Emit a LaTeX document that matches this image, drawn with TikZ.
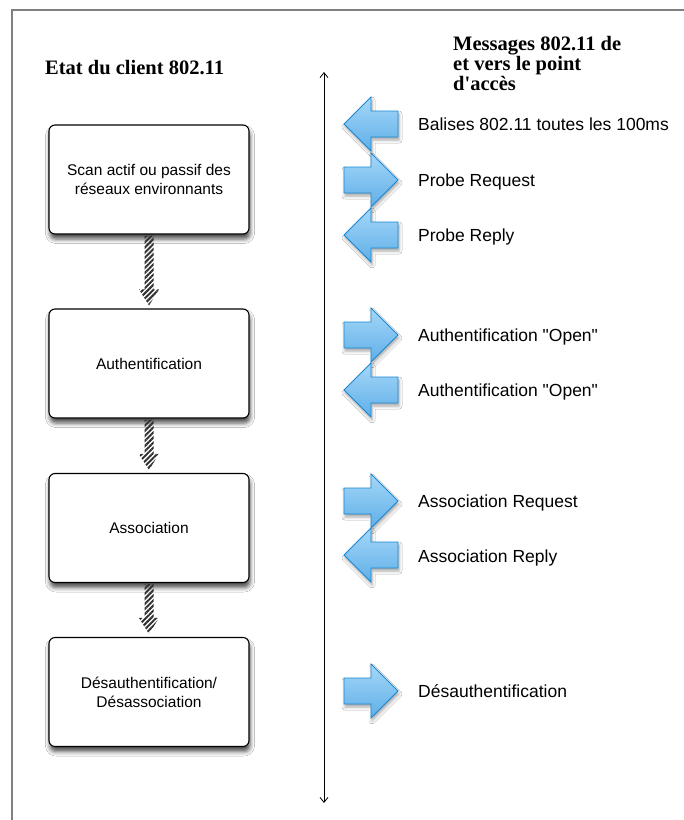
\documentclass[tikz,border=0pt]{standalone}
\usepackage{fontspec}
\setmainfont{Liberation Sans}[Ligatures=TeXOff]
\newfontfamily\titlefont{Liberation Serif}[Ligatures=TeXOff]
\usetikzlibrary{arrows.meta,shadows.blur,patterns.meta,calc}
\definecolor{framegray}{RGB}{128,128,128}
\definecolor{arrowtop}{RGB}{165,215,248}
\definecolor{arrowbot}{RGB}{95,175,232}
\definecolor{arrowline}{RGB}{25,135,212}
\definecolor{stripecol}{RGB}{50,50,50}
\newcommand\hatcharrow[2]{%
  \path[striped] ($(#1.south)+(-4.5,1)$) -- ($(#2.north)+(-4.5,-19)$) -- ($(#2.north)+(-10,-19)$) -- ($(#2.north)+(0,-3)$) -- ($(#2.north)+(10,-19)$) -- ($(#2.north)+(4.5,-19)$) -- ($(#1.south)+(4.5,1)$) -- cycle;}
\begin{document}
\begin{tikzpicture}[x=1pt,y=-1pt,
  statebox/.style={draw=black, line width=1.1pt, rounded corners=6pt, fill=white,
    minimum width=200pt, minimum height=109pt, align=center,
    font=\fontsize{15.5}{19}\selectfont,
    blur shadow={shadow xshift=1pt, shadow yshift=-5pt, shadow blur radius=4.5pt, shadow opacity=70}},
  msg/.style={anchor=base west, inner sep=0pt, font=\fontsize{17.5}{21}\selectfont},
  headtext/.style={anchor=base west, inner sep=0pt, text height=13pt, text depth=3pt,
    font=\titlefont\bfseries\fontsize{20.5}{20}\selectfont},
  bluearrow/.style={draw=arrowline, line width=0.8pt, top color=arrowtop, bottom color=arrowbot,
    line join=miter,
    blur shadow={shadow xshift=1pt, shadow yshift=-3pt, shadow blur radius=3pt, shadow opacity=35}},
  striped/.style={pattern={Lines[angle=45,distance=3.6pt,line width=2pt]}, pattern color=stripecol},
  rarr/.pic={\path[bluearrow] (-27,-13) -- (0,-13) -- (0,-27) -- (27,0) -- (0,27) -- (0,13) -- (-27,13) -- cycle;},
  larr/.pic={\path[bluearrow] (27,-13) -- (0,-13) -- (0,-27) -- (-27,0) -- (0,27) -- (0,13) -- (27,13) -- cycle;},
]
\useasboundingbox (0,0) rectangle (684,820);
\fill[white] (0,0) rectangle (684,820);
\draw[framegray, line width=1.5pt] (12,821) -- (12,10) -- (685,10);

% titles
\node[headtext] (t1) at (45,74) {Etat du client 802.11};
\node[headtext] (t2a) at (453,50) {Messages 802.11 de};
\node[headtext] (t2b) at (453,70) {et vers le point};
\node[headtext] (t2c) at (453,90) {d'accès};

% state boxes
\node[statebox] (s1) at (149,179.5) {Scan actif ou passif des\\réseaux environnants};
\node[statebox] (s2) at (149,363.5) {Authentification};
\node[statebox] (s3) at (149,528) {Association};
\node[statebox] (s4) at (149,692) {Désauthentification/\\Désassociation};

\hatcharrow{s1}{s2}
\hatcharrow{s2}{s3}
\hatcharrow{s3}{s4}

% time axis
\coordinate (vtop) at (324,72);
\coordinate (vbot) at (324,803);
\draw[{Straight Barb[length=5pt,width=8pt]}-{Straight Barb[length=5pt,width=8pt]}, line width=0.8pt] (vtop) -- (vbot);

% message arrows
\pic at (371,124) {larr};
\pic at (371,180) {rarr};
\pic at (371,235) {larr};
\pic at (371,335) {rarr};
\pic at (371,390) {larr};
\pic at (371,501) {rarr};
\pic at (371,555) {larr};
\pic at (371,691) {rarr};

% message labels
\node[msg] (m1) at (418,130) {Balises 802.11 toutes les 100ms};
\node[msg] (m2) at (418,186) {Probe Request};
\node[msg] (m3) at (418,241) {Probe Reply};
\node[msg] (m4) at (418,341) {Authentification "Open"};
\node[msg] (m5) at (418,396) {Authentification "Open"};
\node[msg] (m6) at (418,507) {Association Request};
\node[msg] (m7) at (418,562) {Association Reply};
\node[msg] (m8) at (418,697) {Désauthentification};
\end{tikzpicture}
\end{document}
